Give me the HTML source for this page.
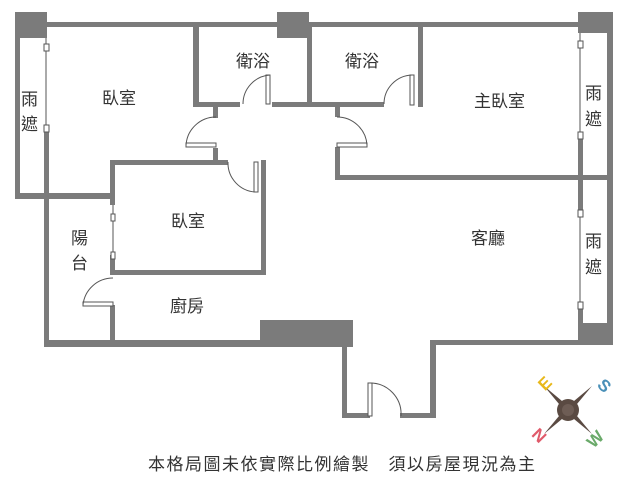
<!DOCTYPE html>
<html><head><meta charset="utf-8"><style>
html,body{margin:0;padding:0;background:#fff;width:639px;height:480px;overflow:hidden}
text{font-family:"Liberation Sans","Noto Sans CJK TC",sans-serif;fill:#333}
</style></head><body>
<svg width="639" height="480" viewBox="0 0 639 480" xmlns="http://www.w3.org/2000/svg">
<g fill="#7b7b7b">
<rect x="15" y="12" width="32" height="26"/>
<rect x="277" y="12" width="32" height="26"/>
<rect x="578" y="12" width="35" height="21"/>
<rect x="15" y="22" width="598" height="5"/>
<rect x="15" y="12" width="5" height="187"/>
<rect x="15" y="193" width="100" height="6"/>
<rect x="44" y="130" width="5" height="217"/>
<rect x="44" y="340" width="218" height="7"/>
<rect x="193" y="22" width="6" height="85"/>
<rect x="193" y="102" width="47" height="5"/>
<rect x="272" y="102" width="38" height="5"/>
<rect x="307" y="22" width="5" height="85"/>
<rect x="213" y="102" width="5" height="16"/>
<rect x="213" y="148" width="5" height="17"/>
<rect x="307" y="102" width="77" height="5"/>
<rect x="418" y="22" width="5" height="85"/>
<rect x="335" y="102" width="5" height="15"/>
<rect x="335" y="147" width="5" height="33"/>
<rect x="335" y="175" width="273" height="5"/>
<rect x="110" y="160" width="118" height="5"/>
<rect x="261" y="160" width="5" height="115"/>
<rect x="110" y="160" width="5" height="45"/>
<rect x="110" y="255" width="5" height="20"/>
<rect x="110" y="270" width="156" height="5"/>
<rect x="110" y="305" width="5" height="40"/>
<rect x="260" y="320" width="93" height="27"/>
<rect x="342" y="340" width="5" height="78"/>
<rect x="342" y="413" width="28" height="5"/>
<rect x="400" y="413" width="36" height="5"/>
<rect x="430" y="340" width="6" height="78"/>
<rect x="430" y="340" width="150" height="5"/>
<rect x="578" y="323" width="35" height="22"/>
<rect x="607" y="22" width="6" height="323"/>
<rect x="578" y="135" width="5" height="75"/>
<rect x="578" y="302" width="5" height="21"/>
</g>
<g stroke="#555" stroke-width="1" fill="none">
<line x1="46" y1="38" x2="46" y2="130"/>
<line x1="113" y1="205" x2="113" y2="255"/>
<line x1="580" y1="33" x2="580" y2="135"/>
<line x1="580" y1="210" x2="580" y2="302"/>
<g fill="#fff">
<rect x="44" y="44" width="5" height="7"/><rect x="44" y="125" width="5" height="7"/>
<rect x="111" y="214" width="4" height="7"/><rect x="111" y="252" width="4" height="7"/>
<rect x="578" y="41" width="5" height="7"/><rect x="578" y="132" width="5" height="7"/>
<rect x="578" y="210" width="5" height="7"/><rect x="578" y="302" width="5" height="7"/>
</g>
<rect x="266" y="75" width="4" height="29" fill="#fff"/>
<path d="M243,104 A29,29 0 0 1 270,75"/>
<rect x="186" y="143" width="30" height="4" fill="#fff"/>
<path d="M216,117 A30,30 0 0 0 186,146"/>
<rect x="254" y="162" width="4" height="30" fill="#fff"/>
<path d="M228,162 A29,29 0 0 0 256,192"/>
<rect x="410" y="75" width="4" height="30" fill="#fff"/>
<path d="M384,104 A29,29 0 0 1 412,75"/>
<rect x="337" y="143" width="30" height="4" fill="#fff"/>
<path d="M337,117 A30,30 0 0 1 367,145"/>
<rect x="83" y="302" width="30" height="4" fill="#fff"/>
<path d="M113,278 A30,30 0 0 0 83,305"/>
<rect x="368" y="383" width="4" height="33" fill="#fff"/>
<path d="M370,383 A31,31 0 0 1 401,416"/>
</g>
<g font-size="17">
<text x="102" y="104">臥室</text>
<text x="236" y="67">衛浴</text>
<text x="345" y="67">衛浴</text>
<text x="474" y="107">主臥室</text>
<text x="21" y="105">雨</text><text x="21" y="130">遮</text>
<text x="585" y="99">雨</text><text x="585" y="125">遮</text>
<text x="585" y="247">雨</text><text x="585" y="273">遮</text>
<text x="171" y="227">臥室</text>
<text x="71" y="244">陽</text><text x="71" y="269">台</text>
<text x="170" y="312">廚房</text>
<text x="471" y="244">客廳</text>
</g>
<text x="148" y="470" font-size="17" textLength="387">本格局圖未依實際比例繪製　須以房屋現況為主</text>
<g transform="translate(568,410)">
<g fill="#5a4a42">
<polygon points="0,-4 -24,-24 -4,0"/><polygon points="0,-4 24,-24 4,0"/>
<polygon points="0,4 -24,24 -4,0"/><polygon points="0,4 24,24 4,0"/>
</g>
<circle r="11" fill="#5a4a42"/><circle r="6" fill="#6e5d55"/>
</g>
<g font-size="17" font-weight="bold">
<text x="539" y="389" style="fill:#e8b81a" transform="rotate(-45 545 383)">E</text>
<text x="599" y="391" style="fill:#4a90b8" transform="rotate(45 604 385)">S</text>
<text x="533" y="442" style="fill:#e05a6a" transform="rotate(45 540 436)">N</text>
<text x="587" y="445" style="fill:#6aaa6a" transform="rotate(-45 595 439)">W</text>
</g>
</svg>
</body></html>
